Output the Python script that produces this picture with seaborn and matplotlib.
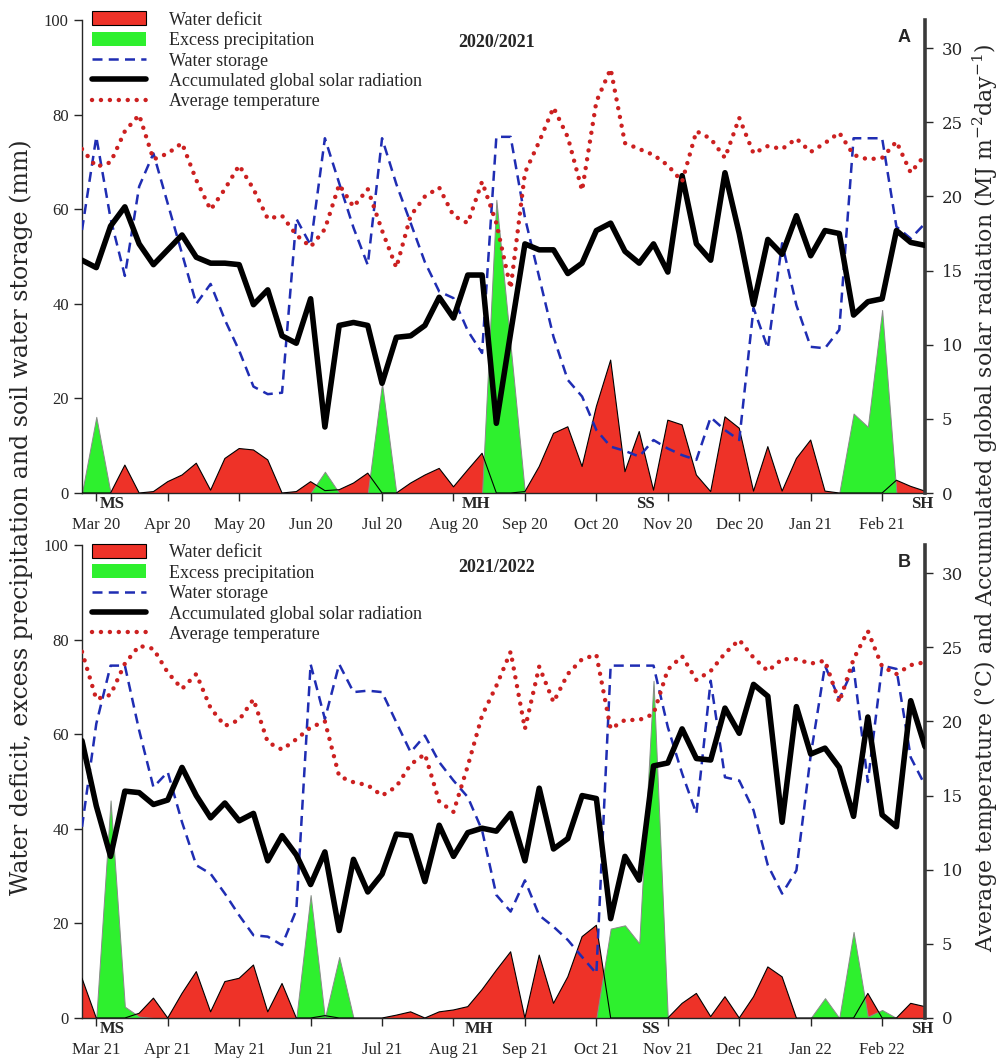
import numpy as np
import matplotlib
matplotlib.use("Agg")
import matplotlib.pyplot as plt
import seaborn as sns
from matplotlib.patches import Patch
from matplotlib.lines import Line2D

# ---------------- data (6-day periods, 60 per season) ----------------
periods = list(range(60))
month_ticks = [1, 6, 11, 16, 21, 26, 31, 36, 41, 46, 51, 56]
months_a = ["Mar 20", "Apr 20", "May 20", "Jun 20", "Jul 20", "Aug 20",
            "Sep 20", "Oct 20", "Nov 20", "Dec 20", "Jan 21", "Feb 21"]
months_b = ["Mar 21", "Apr 21", "May 21", "Jun 21", "Jul 21", "Aug 21",
            "Sep 21", "Oct 21", "Nov 21", "Dec 21", "Jan 22", "Feb 22"]
stage_labels = ["MS", "MH", "SS", "SH"]
stage_pos_a = [2.1, 27.6, 39.4, 58.8]
stage_pos_b = [2.1, 27.8, 39.8, 58.8]

# 2020/2021
solar_a = [15.7, 15.2, 18.0, 19.3, 16.8, 15.4, 16.4, 17.4, 15.9, 15.5,
           15.5, 15.4, 12.7, 13.7, 10.6, 10.1, 13.1, 4.45, 11.3, 11.5,
           11.3, 7.4, 10.5, 10.6, 11.3, 13.2, 11.8, 14.7, 14.7, 4.7,
           10.8, 16.8, 16.4, 16.4, 14.8, 15.5, 17.7, 18.2, 16.3, 15.5,
           16.8, 14.9, 21.4, 16.8, 15.7, 21.6, 17.5, 12.7, 17.1, 16.1,
           18.7, 16.0, 17.7, 17.5, 12.0, 12.9, 13.1, 17.7, 16.9, 16.7]
temp_a = [23.2, 22.0, 22.3, 24.4, 25.5, 22.5, 22.9, 23.6, 21.1, 19.1,
          20.5, 22.1, 20.5, 18.5, 18.7, 17.4, 16.6, 17.8, 20.8, 19.3,
          20.5, 17.7, 15.2, 18.7, 20.0, 20.6, 18.7, 18.2, 21.0, 18.2,
          13.8, 21.6, 23.7, 26.0, 24.0, 20.4, 26.4, 28.6, 23.6, 23.2,
          22.8, 22.1, 21.0, 24.4, 23.9, 22.6, 25.3, 22.9, 23.4, 23.2,
          23.9, 23.0, 23.6, 24.3, 22.8, 22.5, 22.6, 23.7, 21.6, 22.8]
storage_a = [55.6, 75.3, 58.0, 45.9, 64.8, 71.8, 61.2, 50.6, 40.0, 44.2,
             36.6, 30.1, 22.5, 20.9, 21.2, 58.0, 52.4, 75.0, 65.5, 56.1,
             48.2, 75.0, 65.3, 57.1, 48.8, 42.6, 41.2, 34.3, 29.6, 75.3,
             75.3, 58.2, 45.6, 33.0, 23.9, 20.4, 13.3, 9.8, 8.9, 7.7,
             11.2, 9.4, 8.0, 7.0, 16.0, 13.3, 11.2, 39.1, 30.6, 52.8,
             39.7, 30.9, 30.6, 34.5, 75.0, 75.0, 75.0, 56.3, 53.8, 57.0]
deficit_a = [0, 0, 0, 5.9, 0, 0.3, 2.4, 3.8, 6.3, 0.6,
             7.3, 9.4, 9.1, 7.0, 0, 0.3, 2.4, 0.5, 0.7, 2.1,
             4.2, 0, 0, 2.1, 3.8, 5.2, 1.3, 4.9, 8.4, 0,
             0, 0.3, 5.6, 12.6, 14.0, 5.6, 18.3, 28.1, 4.5, 13.0,
             0.6, 15.4, 14.4, 3.8, 0.3, 16.1, 13.7, 0.4, 9.8, 0.4,
             7.3, 11.2, 0.4, 0, 0, 0, 0, 2.7, 1.4, 0.4]
excess_a = [0, 16.1, 0, 0, 0, 0, 0, 0, 0, 0,
            0, 0, 0, 0, 0, 0, 0, 4.5, 0, 0,
            0, 23.2, 0, 0, 0, 0, 0, 0, 0, 62.0,
            31.0, 0, 0, 0, 0, 0, 0, 0, 0, 0,
            0, 0, 0, 0, 0, 0, 0, 0, 0, 0,
            0, 0, 0, 0, 16.8, 14.0, 38.7, 0, 0, 0]

# 2021/2022
solar_b = [18.7, 14.3, 10.9, 15.3, 15.2, 14.4, 14.7, 16.9, 15.0, 13.5,
           14.5, 13.3, 13.8, 10.6, 12.3, 11.0, 9.0, 11.2, 5.9, 10.7,
           8.5, 9.7, 12.4, 12.3, 9.2, 13.0, 10.9, 12.5, 12.8, 12.6,
           13.8, 10.6, 15.5, 11.4, 12.1, 15.0, 14.8, 6.7, 10.9, 9.3,
           17.0, 17.2, 19.5, 17.5, 17.4, 20.9, 19.2, 22.5, 21.7, 13.2,
           21.0, 17.8, 18.2, 16.9, 13.6, 20.3, 13.7, 12.9, 21.4, 18.3]
temp_b = [24.7, 21.5, 21.8, 23.9, 25.1, 24.9, 23.3, 22.2, 23.2, 20.9,
          19.7, 20.1, 21.5, 18.6, 18.1, 18.8, 19.6, 20.0, 16.3, 15.9,
          15.7, 15.0, 15.6, 17.1, 17.8, 14.6, 13.9, 17.0, 20.4, 22.4,
          24.7, 19.5, 23.7, 21.3, 23.2, 24.2, 24.5, 19.5, 20.1, 20.1,
          20.5, 23.5, 24.4, 22.8, 23.4, 24.6, 25.5, 24.3, 23.4, 24.2,
          24.2, 23.9, 24.1, 21.3, 24.2, 26.1, 23.7, 23.2, 23.8, 24.0]
storage_b = [40.4, 62.2, 74.5, 74.5, 60.8, 48.8, 52.0, 41.4, 32.3, 30.5,
             26.3, 21.7, 17.5, 17.2, 15.4, 22.8, 74.8, 63.2, 74.8, 68.9,
             69.2, 68.9, 62.5, 56.2, 59.7, 54.1, 50.2, 46.7, 39.7, 26.0,
             22.5, 29.1, 21.7, 19.3, 16.5, 12.9, 9.4, 74.5, 74.5, 74.5,
             74.5, 61.5, 51.7, 43.2, 71.3, 50.9, 50.2, 43.9, 32.3, 26.3,
             31.2, 55.5, 74.5, 67.4, 74.1, 49.9, 74.5, 73.8, 55.1, 49.2]
deficit_b = [8.4, 0, 0, 0, 1.0, 4.2, 0, 5.2, 9.8, 1.3,
             7.7, 8.4, 11.2, 1.3, 7.3, 0, 0, 0.5, 0, 0,
             0, 0, 0.6, 1.3, 0, 1.3, 1.7, 2.4, 6.0, 10.1,
             14.0, 0, 13.3, 3.1, 8.7, 17.2, 19.6, 0, 0, 0,
             0, 0, 3.1, 5.2, 0.3, 4.5, 0, 4.5, 10.8, 8.7,
             0, 0, 0, 0, 0, 5.2, 0, 0, 3.1, 2.4]
excess_b = [0, 0, 46.0, 2.4, 0.3, 0, 0, 0, 0, 0,
            0, 0, 0, 0, 0, 0, 26.0, 0, 12.9, 0,
            0, 0, 0, 0, 0, 0, 0, 0, 0, 0,
            0, 0, 0, 0, 0, 0, 0, 18.9, 19.6, 15.8,
            71.3, 0, 0, 0, 0, 0, 0, 0, 0, 0,
            0, 0, 4.2, 0, 18.2, 0.3, 1.7, 0, 0, 0]

# ---------------- style ----------------
sns.set_style("ticks")
plt.rcParams['font.family'] = ['Liberation Serif', 'DejaVu Serif']
plt.rcParams['mathtext.default'] = 'regular'

RED = '#EE3228'
GREEN = '#2EF02E'
BLUE = '#1F2DB3'
RED_DOT = '#CC2020'
DASH = (0, (4, 2.5))
DOT = (0, (0.01, 2.0))
WIDE = ['DejaVu Serif']

fig = plt.figure(figsize=(10.03, 10.58), dpi=100)
L, W = 82 / 1003, 843 / 1003
H = 473 / 1058
ax_top = fig.add_axes([L, 1 - 493 / 1058, W, H])
ax_bot = fig.add_axes([L, 1 - 1018 / 1058, W, H])


def draw_panel(ax, deficit, excess, storage, solar, temp, months, stage_pos,
               season, letter, leg_y):
    ax.fill_between(periods, 0, deficit, facecolor=RED, edgecolor='none',
                    zorder=1)
    ax.fill_between(periods, 0, excess, facecolor=GREEN, edgecolor='#8a8a8a',
                    lw=0.7, zorder=2)
    sns.lineplot(x=periods, y=deficit, ax=ax, color='black', lw=0.8, zorder=3)
    sns.lineplot(x=periods, y=storage, ax=ax, color=BLUE, lw=1.8,
                 linestyle=DASH, zorder=4)
    ax.set_xlim(0, 59)
    ax.set_ylim(0, 100)
    ax.set_yticks([0, 20, 40, 60, 80, 100])
    ax.set_xticks(month_ticks)
    ax.set_xticklabels(months)
    ax.set_xlabel("")
    ax.set_ylabel("")
    ax.tick_params(axis='x', labelsize=12, pad=11, length=6, width=1)
    ax.tick_params(axis='y', labelsize=12, length=6, width=1)
    for s in ['top', 'right']:
        ax.spines[s].set_visible(False)
    ax.spines['left'].set_linewidth(1.0)
    ax.spines['bottom'].set_linewidth(1.0)

    ax2 = ax.twinx()
    sns.lineplot(x=periods, y=solar, ax=ax2, color='black', lw=4, zorder=3)
    sns.lineplot(x=periods, y=temp, ax=ax2, color=RED_DOT, lw=3.2,
                 linestyle=DOT, dash_capstyle='round', zorder=4)
    ax2.set_ylim(0, 31.9)
    ax2.set_yticks([0, 5, 10, 15, 20, 25, 30])
    ax2.set_ylabel("")
    ax2.tick_params(axis='y', labelsize=12, length=6, width=1, pad=6)
    for t in ax2.get_yticklabels():
        t.set_family(WIDE)
    for s in ['top', 'left', 'bottom']:
        ax2.spines[s].set_visible(False)
    ax2.spines['right'].set_linewidth(2.6)
    ax2.spines['right'].set_color('#3a3a3a')

    for lab, pos in zip(stage_labels, stage_pos):
        ax.text(pos, -0.024, lab, transform=ax.get_xaxis_transform(),
                ha='center', va='center', fontsize=12, fontweight='bold',
                clip_on=False)

    ax2.text(0.492, 0.953, season, transform=ax2.transAxes, ha='center',
             va='center', fontsize=13, fontweight='bold')
    ax2.text(0.975, 0.963, letter, transform=ax2.transAxes, ha='center',
             va='center', fontsize=13, fontweight='bold',
             family=['Liberation Sans', 'DejaVu Sans'])

    handles = [
        Patch(facecolor=RED, edgecolor='black', lw=0.8),
        Patch(facecolor=GREEN, edgecolor='none'),
        Line2D([], [], color=BLUE, lw=1.8, linestyle=DASH),
        Line2D([], [], color='black', lw=4),
        Line2D([], [], color=RED_DOT, lw=3.2, linestyle=DOT,
               dash_capstyle='round'),
    ]
    labels = ["Water deficit", "Excess precipitation", "Water storage",
              "Accumulated global solar radiation", "Average temperature"]
    ax2.legend(handles, labels, loc='upper left',
               bbox_to_anchor=(0.012, leg_y), frameon=False,
               fontsize=13, handlelength=3.0, handleheight=0.8,
               handletextpad=1.25, labelspacing=0.18, borderpad=0,
               borderaxespad=0)
    return ax2


draw_panel(ax_top, deficit_a, excess_a, storage_a, solar_a, temp_a, months_a,
           stage_pos_a, "2020/2021", "A", 1.018)
draw_panel(ax_bot, deficit_b, excess_b, storage_b, solar_b, temp_b, months_b,
           stage_pos_b, "2021/2022", "B", 1.002)

fig.text(0.021, 0.511,
         "Water deficit, excess precipitation and soil water storage (mm)",
         rotation=90, ha='center', va='center', fontsize=17, family=WIDE)
fig.text(0.982, 0.53,
         "Average temperature (\u00b0C) and Accumulated global solar radiation "
         "(MJ m$^{-2}$day$^{-1}$)",
         rotation=90, ha='center', va='center', fontsize=15.8, family=WIDE)

fig.savefig("out.png", dpi=100)
